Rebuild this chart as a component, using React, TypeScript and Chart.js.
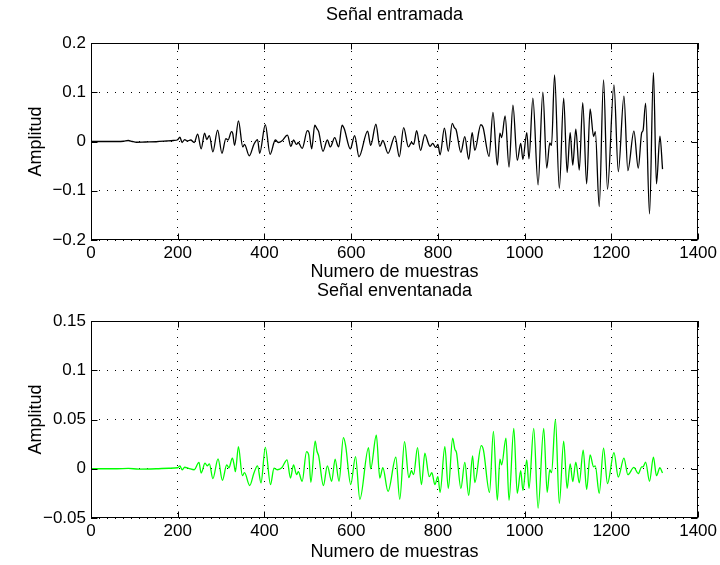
import React, { useEffect, useRef } from 'react';
import { Chart, registerables } from 'chart.js';

Chart.register(...registerables);

// ---- axis ticks / labels ----
const xTicks = [0, 200, 400, 600, 800, 1000, 1200, 1400];
const xTickLabels = ['0', '200', '400', '600', '800', '1000', '1200', '1400'];
const yTicksTop = [-0.2, -0.1, 0, 0.1, 0.2];
const yTickLabelsTop = ['\u22120.2', '\u22120.1', '0', '0.1', '0.2'];
const yTicksBottom = [-0.05, 0, 0.05, 0.1, 0.15];
const yTickLabelsBottom = ['\u22120.05', '0', '0.05', '0.1', '0.15'];

const titleTop = 'Señal entramada';
const titleBottom = 'Señal enventanada';
const xLabel = 'Numero de muestras';
const yLabel = 'Amplitud';

// ---- framed signal (sample index, amplitude) ----
const framedSamples = [
  0, 60, 75, 86, 95, 105, 125, 150, 175, 190, 200, 205, 210, 216, 222, 230, 238,
  246, 254, 262, 267, 273, 281, 292, 302, 311, 316, 324, 327, 331, 340, 350, 354, 365, 376, 384, 389, 402, 413, 425, 432, 440, 453, 461, 467, 474, 478, 487,
  499, 503, 509, 516, 521, 525, 535, 545, 552, 562, 571, 579, 584, 598, 608, 618, 638, 645, 657, 666, 673, 685, 701, 711, 721, 732, 739, 744, 751, 760, 770, 782, 788, 795, 800, 805,
  815, 824, 833, 838, 842, 853, 862, 871, 879, 885, 899, 904, 918, 927, 937, 943, 947, 955, 964, 973, 983, 991, 996, 1005, 1010, 1019, 1031, 1042, 1051, 1058, 1062, 1069, 1080, 1090,
  1098, 1105, 1111, 1118, 1126, 1134, 1143, 1151, 1159, 1163, 1172, 1182, 1191, 1206, 1216, 1229, 1238, 1252, 1262, 1270, 1273, 1279, 1288, 1297, 1304, 1312, 1318,
];
const framedAmplitude = [
  0, 0, 0.0005, 0.002, 0, -0.0015, -0.001, -0.0005, 0.001, 0.002, 0.0035, 0.009, -0.002, 0.004, 0.001, 0.003, -0.002,
  0.015, -0.015, 0.017, 0.004, 0.012, -0.021, 0.023, -0.024, 0.006, 0.003, 0.02, 0.016, -0.008, 0.042, -0.011, -0.006, -0.029, -0.005, 0.004, -0.024, 0.034, -0.026, 0.003, -0.002, 0.001, 0.013, -0.01, 0.003, -0.006, -0.002, -0.014,
  0.022, 0.018, -0.015, 0.033, 0.026, 0.02, -0.02, 0.003, -0.011, 0.008, -0.011, 0.033, 0.026, -0.015, 0.012, -0.031, 0.021, -0.008, 0.035, -0.01, 0.002, -0.024, 0.011, -0.031, 0.028, -0.011, -0.002, -0.006, 0.022, -0.018, 0.014, -0.01, -0.004, -0.012, -0.006, -0.027,
  0.027, -0.02, 0.037, 0.028, 0.024, -0.022, 0.01, -0.036, 0.018, -0.018, 0.034, 0.029, -0.03, 0.059, -0.048, 0.017, 0.008, 0.052, -0.052, 0.074, -0.038, -0.004, -0.036, 0.018, -0.035, 0.088, -0.088, 0.1, -0.054, -0.003, -0.008, 0.135, -0.095, 0.088,
  -0.063, 0.018, -0.048, 0.025, -0.058, 0.079, -0.086, 0.066, 0.01, 0.02, -0.132, 0.125, -0.097, 0.115, -0.061, 0.092, -0.059, 0.021, -0.054, 0.018, 0.022, 0.078, -0.147, 0.14, -0.086, 0.011, -0.056,
];

// ---- windowed signal ----
const windowedSamples = [
  0, 60, 86, 110, 150, 180, 200, 205, 210, 216, 225, 238,
  249, 254, 263, 268, 273, 281, 293, 303, 313, 318, 326, 330, 333, 340, 349, 354, 366, 376, 384, 392, 402, 414, 422, 430, 440, 452, 460, 467, 474, 478, 487,
  497, 502, 507, 517, 521, 525, 536, 545, 555, 563, 572, 582, 587, 599, 610, 620, 640, 645, 658, 666, 673, 685, 703, 712, 723, 733, 739, 744, 753, 762, 770, 780, 786, 793, 800, 805,
  816, 824, 834, 839, 843, 853, 862, 871, 880, 885, 900, 905, 919, 928, 937, 943, 947, 957, 964, 975, 983, 991, 996, 1005, 1010, 1021, 1031, 1044, 1052, 1058, 1062, 1071, 1080, 1090,
  1098, 1105, 1111, 1118, 1126, 1135, 1143, 1151, 1159, 1163, 1172, 1182, 1191, 1206, 1216, 1229, 1238, 1252, 1262, 1270, 1273, 1279, 1288, 1297, 1304, 1312, 1318,
];
const windowedAmplitude = [
  0, 0, 0.0003, -0.0003, 0, 0.0005, 0.001, 0.003, -0.001, 0.0015, 0.0005, -0.001,
  0.0064, -0.0044, 0.0057, 0.003, 0.005, -0.01, 0.01, -0.0117, 0.004, 0.001, 0.0107, 0.004, -0.003, 0.0224, -0.007, -0.004, -0.017, -0.004, 0.003, -0.0144, 0.0218, -0.016, 0.0005, -0.001, 0.001, 0.009, -0.0094, 0.004, -0.006, -0.003, -0.0127,
  0.0174, 0.014, -0.0137, 0.028, 0.018, 0.013, -0.017, 0.003, -0.0127, 0.0097, -0.0127, 0.0315, 0.024, -0.016, 0.0124, -0.031, 0.0215, 0, 0.034, -0.0094, 0.001, -0.023, 0.0117, -0.031, 0.0275, -0.009, -0.002, -0.006, 0.0215, -0.016, 0.0158, -0.008, -0.004, -0.016, -0.008, -0.024,
  0.0225, -0.02, 0.031, 0.02, 0.016, -0.02, 0.0064, -0.027, 0.013, -0.014, 0.0235, 0.019, -0.024, 0.038, -0.032, 0.0097, 0.004, 0.031, -0.032, 0.041, -0.025, -0.002, -0.022, 0.009, -0.02, 0.041, -0.04, 0.041, -0.024, -0.001, -0.004, 0.05, -0.035, 0.028,
  -0.02, 0.005, -0.013, 0.0067, -0.0144, 0.019, -0.021, 0.014, 0.002, 0.003, -0.025, 0.0208, -0.015, 0.0164, -0.0084, 0.0107, -0.006, 0.0013, -0.005, 0.002, 0.002, 0.0067, -0.0127, 0.0117, -0.007, 0.001, -0.0044,
];

const FONT = '"Liberation Sans", Arial, Helvetica, sans-serif';

const framePlugin = {
  id: 'matFrame',
  afterDraw(chart: any, _args: any, opts: any) {
    const { ctx, chartArea } = chart;
    const { left, right, top, bottom } = chartArea;
    const xs = chart.scales.x;
    const ys = chart.scales.y;
    const L = Math.round(left) + 0.5;
    const R = Math.round(right) - 0.5;
    const T = Math.round(top) + 0.5;
    const B = Math.round(bottom) - 0.5;
    ctx.save();
    ctx.strokeStyle = '#000';
    ctx.lineWidth = 1;
    ctx.setLineDash([]);
    ctx.beginPath();
    const tl = 6;
    for (const t of xs.ticks) {
      const px = Math.round(xs.getPixelForValue(t.value)) + 0.5;
      ctx.moveTo(px, B);
      ctx.lineTo(px, B - tl);
      ctx.moveTo(px, T);
      ctx.lineTo(px, T + tl);
    }
    for (const t of ys.ticks) {
      const py = Math.round(ys.getPixelForValue(t.value)) + 0.5;
      ctx.moveTo(L, py);
      ctx.lineTo(L + tl, py);
      ctx.moveTo(R, py);
      ctx.lineTo(R - tl, py);
    }
    ctx.stroke();
    ctx.strokeRect(L, T, R - L, B - T);

    ctx.fillStyle = '#000';
    ctx.font = `${opts.labelSize}px ${FONT}`;
    ctx.textAlign = 'center';
    ctx.textBaseline = 'middle';
    const cx = (left + right) / 2;
    ctx.fillText(opts.title, cx, opts.titleY);
    ctx.fillText(opts.xLabel, cx, opts.xLabelY);
    ctx.translate(opts.yLabelX, (top + bottom) / 2);
    ctx.rotate(-Math.PI / 2);
    ctx.fillText(opts.yLabel, 0, 0);
    ctx.restore();
  },
};

type PanelCfg = {
  samples: number[];
  values: number[];
  color: string;
  yTicks: number[];
  yLabels: string[];
  title: string;
  padTop: number;
  xAxisHeight: number;
  titleY: number;
  xLabelY: number;
};

function buildChart(canvas: HTMLCanvasElement, c: PanelCfg) {
  const data = c.samples.map((s, i) => ({ x: s, y: c.values[i] }));
  return new Chart(canvas, {
    type: 'line',
    data: {
      datasets: [
        {
          data,
          borderColor: c.color,
          borderWidth: 1.3,
          pointRadius: 0,
          fill: false,
          cubicInterpolationMode: 'monotone',
        },
      ],
    },
    options: {
      responsive: false,
      animation: false,
      devicePixelRatio: 1,
      layout: { padding: { left: 0, right: 21, top: c.padTop, bottom: 0 } },
      plugins: {
        legend: { display: false },
        tooltip: { enabled: false },
        title: { display: false },
        matFrame: {
          title: c.title,
          xLabel,
          yLabel,
          titleY: c.titleY,
          xLabelY: c.xLabelY,
          yLabelX: 36,
          labelSize: 18,
        },
      } as any,
      scales: {
        x: {
          type: 'linear',
          min: 0,
          max: 1400,
          afterBuildTicks: (s: any) => {
            s.ticks = xTicks.map((v) => ({ value: v }));
          },
          afterFit: (s: any) => {
            s.height = c.xAxisHeight;
          },
          ticks: {
            color: '#000',
            font: { family: FONT, size: 17 },
            padding: 3,
            maxRotation: 0,
            autoSkip: false,
            callback: (_v: any, i: number) => xTickLabels[i],
          },
          grid: { color: '#000', lineWidth: 1, drawTicks: false },
          border: { display: false, dash: [1, 7] },
        },
        y: {
          type: 'linear',
          min: c.yTicks[0],
          max: c.yTicks[c.yTicks.length - 1],
          afterBuildTicks: (s: any) => {
            s.ticks = c.yTicks.map((v) => ({ value: v }));
          },
          afterFit: (s: any) => {
            s.width = 91;
          },
          ticks: {
            color: '#000',
            font: { family: FONT, size: 17 },
            padding: 5,
            autoSkip: false,
            callback: (_v: any, i: number) => c.yLabels[i],
          },
          grid: { color: '#000', lineWidth: 1, drawTicks: false },
          border: { display: false, dash: [1, 7] },
        },
      },
    } as any,
    plugins: [framePlugin],
  });
}

export default function App() {
  const topRef = useRef<HTMLCanvasElement>(null);
  const botRef = useRef<HTMLCanvasElement>(null);

  useEffect(() => {
    const c1 = buildChart(topRef.current!, {
      samples: framedSamples,
      values: framedAmplitude,
      color: '#000000',
      yTicks: yTicksTop,
      yLabels: yTickLabelsTop,
      title: titleTop,
      padTop: 43,
      xAxisHeight: 43,
      titleY: 15,
      xLabelY: 272,
    });
    const c2 = buildChart(botRef.current!, {
      samples: windowedSamples,
      values: windowedAmplitude,
      color: '#00ff00',
      yTicks: yTicksBottom,
      yLabels: yTickLabelsBottom,
      title: titleBottom,
      padTop: 38,
      xAxisHeight: 47,
      titleY: 8,
      xLabelY: 269,
    });
    return () => {
      c1.destroy();
      c2.destroy();
    };
  }, []);

  return (
    <div style={{ position: 'absolute', left: 0, top: 0, width: 720, height: 565, background: '#fff' }}>
      <canvas ref={topRef} width={720} height={283} style={{ position: 'absolute', left: 0, top: 0, width: 720, height: 283 }} />
      <canvas ref={botRef} width={720} height={282} style={{ position: 'absolute', left: 0, top: 283, width: 720, height: 282 }} />
    </div>
  );
}
